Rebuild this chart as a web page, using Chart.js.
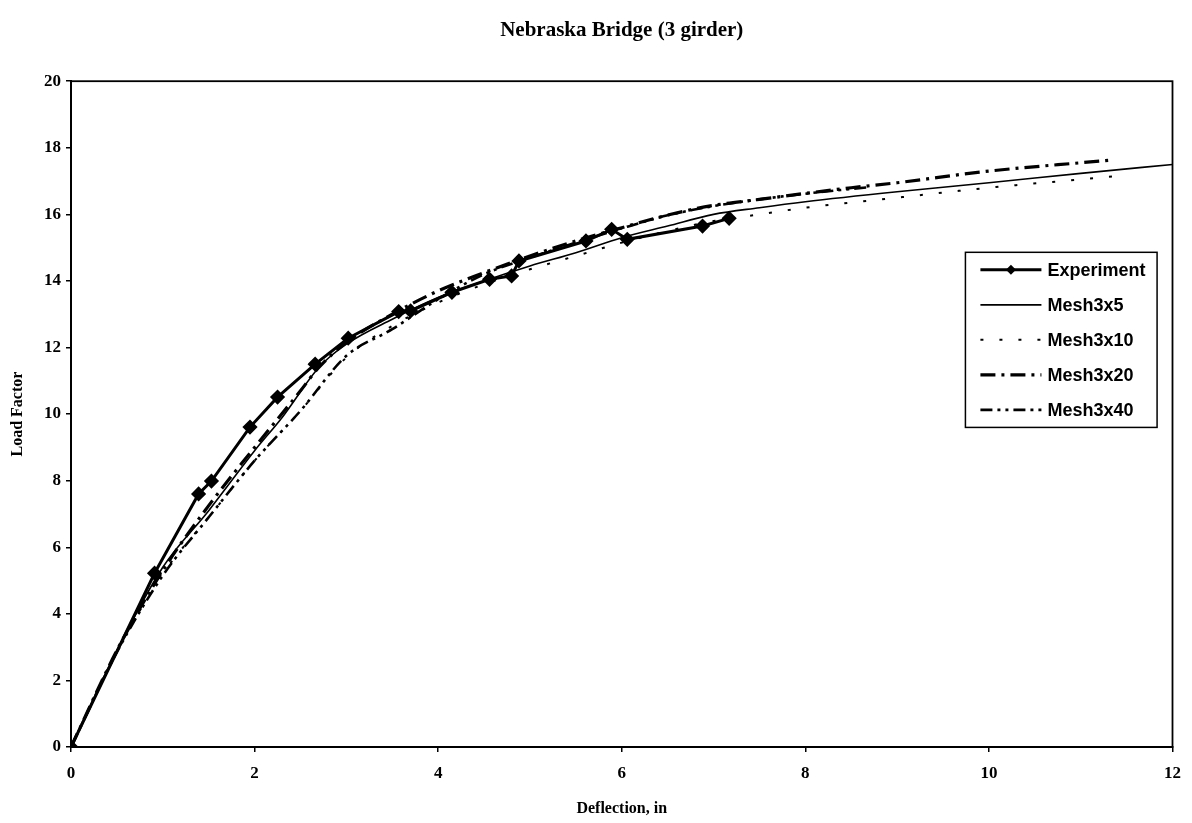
<!DOCTYPE html>
<html>
<head>
<meta charset="utf-8">
<script src="https://cdn.jsdelivr.net/npm/chart.js@4/dist/chart.umd.min.js"></script>
<style>
  html, body { margin: 0; padding: 0; background: #fff; }
  #wrap { width: 1192px; height: 823px; position: relative; }
</style>
</head>
<body>
<div id="wrap"><canvas id="c" width="1192" height="823"></canvas></div>
<script>
// ---- Data ----
const chartTitle = "Nebraska Bridge (3 girder)";
const xAxisTitle = "Deflection, in";
const yAxisTitle = "Load Factor";
const seriesNames = ["Experiment", "Mesh3x5", "Mesh3x10", "Mesh3x20", "Mesh3x40"];

const expX = [0, 0.91, 1.39, 1.53, 1.95, 2.25, 2.66, 3.02, 3.57, 3.7, 4.15, 4.56, 4.8, 4.88, 5.61, 5.89, 6.06, 6.88, 7.17];
const expY = [0, 5.22, 7.6, 7.99, 9.61, 10.51, 11.5, 12.28, 13.08, 13.1, 13.66, 14.05, 14.15, 14.6, 15.2, 15.55, 15.25, 15.65, 15.88];

const m5X = [0, 0.5, 1.0, 1.5, 2.0, 2.3, 2.7, 3.0, 3.5, 4.0, 4.5, 5.0, 5.5, 6.0, 6.5, 7.0, 7.5, 8.0, 9.0, 10.0, 11.0, 12.0];
const m5Y = [0, 2.9, 5.4, 7.1, 8.9, 9.9, 11.4, 12.1, 12.85, 13.5, 14.0, 14.45, 14.85, 15.3, 15.65, 16.0, 16.2, 16.38, 16.68, 16.95, 17.23, 17.5];

const m10X = [0, 0.5, 1.0, 1.5, 2.0, 2.5, 3.0, 3.5, 4.0, 4.5, 5.0, 5.5, 6.0, 6.5, 7.0, 7.5, 8.0, 9.0, 10.0, 11.0, 11.4];
const m10Y = [0, 2.85, 5.2, 6.9, 8.6, 10.1, 11.7, 12.65, 13.35, 13.9, 14.35, 14.75, 15.15, 15.5, 15.8, 16.0, 16.2, 16.5, 16.8, 17.05, 17.15];

const m20X = [0, 0.5, 1.0, 1.5, 2.0, 2.5, 2.7, 3.0, 3.5, 4.0, 4.5, 5.0, 5.5, 6.0, 6.5, 7.0, 7.5, 8.0, 8.5, 9.0, 10.0, 11.0, 11.34];
const m20Y = [0, 2.9, 5.3, 7.25, 9.0, 10.7, 11.4, 12.15, 13.0, 13.7, 14.25, 14.75, 15.2, 15.6, 15.98, 16.27, 16.45, 16.63, 16.8, 16.95, 17.3, 17.55, 17.63];

const m40X = [0, 0.5, 1.0, 1.5, 2.0, 2.5, 3.0, 3.5, 4.0, 4.5, 5.0, 5.5, 6.0, 6.5, 7.0, 7.5, 8.0, 8.7];
const m40Y = [0, 2.85, 5.15, 6.9, 8.6, 10.1, 11.75, 12.55, 13.45, 14.2, 14.7, 15.15, 15.58, 15.97, 16.25, 16.45, 16.62, 16.82];

const xTicks = [0, 2, 4, 6, 8, 10, 12];
const yTicks = [0, 2, 4, 6, 8, 10, 12, 14, 16, 18, 20];

function pts(xs, ys) { return xs.map((x, i) => ({ x: x, y: ys[i] })); }

// ---- Plugins ----
const framePlugin = {
  id: 'frame',
  beforeDatasetsDraw(chart) {
    const { ctx, chartArea: a } = chart;
    ctx.save();
    ctx.strokeStyle = '#000';
    ctx.lineWidth = 1.8;
    ctx.strokeRect(a.left, a.top, a.right - a.left, a.bottom - a.top);
    ctx.restore();
  }
};

const boxLegend = {
  id: 'boxLegend',
  afterDraw(chart) {
    const { ctx, chartArea: a } = chart;
    const w = a.right - a.left, h = a.bottom - a.top;
    const L = a.left + w * 0.812, T = a.top + h * 0.257;
    const R = a.left + w * 0.986, B = a.top + h * 0.52;
    ctx.save();
    ctx.fillStyle = '#fff';
    ctx.fillRect(L, T, R - L, B - T);
    ctx.strokeStyle = '#000';
    ctx.lineWidth = 1.5;
    ctx.strokeRect(L, T, R - L, B - T);
    const rowH = (B - T) / chart.data.datasets.length;
    chart.data.datasets.forEach((ds, i) => {
      const y = T + rowH * (i + 0.5);
      ctx.beginPath();
      ctx.setLineDash(ds.borderDash || []);
      ctx.lineWidth = ds.borderWidth;
      ctx.strokeStyle = '#000';
      ctx.moveTo(L + 15, y);
      ctx.lineTo(L + 76, y);
      ctx.stroke();
      ctx.setLineDash([]);
      if (ds.pointRadius > 0) {
        const r = 5;
        ctx.beginPath();
        ctx.moveTo(L + 45.5, y - r);
        ctx.lineTo(L + 45.5 + r, y);
        ctx.lineTo(L + 45.5, y + r);
        ctx.lineTo(L + 45.5 - r, y);
        ctx.closePath();
        ctx.fillStyle = '#000';
        ctx.fill();
      }
      ctx.fillStyle = '#000';
      ctx.font = 'bold 18px "Liberation Sans", Arial, sans-serif';
      ctx.textBaseline = 'middle';
      ctx.textAlign = 'left';
      ctx.fillText(ds.label, L + 82, y + 1);
    });
    ctx.restore();
  }
};

const tickFont = { family: '"Liberation Serif", "Times New Roman", serif', size: 17, weight: 'bold' };
const titleFont = { family: '"Liberation Serif", "Times New Roman", serif', size: 16, weight: 'bold' };

new Chart(document.getElementById('c'), {
  type: 'line',
  data: {
    datasets: [
      { label: seriesNames[0], data: pts(expX, expY), borderColor: '#000', backgroundColor: '#000',
        borderWidth: 3, pointStyle: 'rectRot', pointRadius: 5.5, pointBackgroundColor: '#000',
        pointBorderColor: '#000', tension: 0, borderDash: [] },
      { label: seriesNames[1], data: pts(m5X, m5Y), borderColor: '#000', borderWidth: 1.6,
        pointRadius: 0, cubicInterpolationMode: 'monotone', borderDash: [] },
      { label: seriesNames[2], data: pts(m10X, m10Y), borderColor: '#000', borderWidth: 2,
        pointRadius: 0, cubicInterpolationMode: 'monotone', borderDash: [3, 16] },
      { label: seriesNames[3], data: pts(m20X, m20Y), borderColor: '#000', borderWidth: 3.2,
        pointRadius: 0, cubicInterpolationMode: 'monotone', borderDash: [15, 6, 3, 6] },
      { label: seriesNames[4], data: pts(m40X, m40Y), borderColor: '#000', borderWidth: 2.6,
        pointRadius: 0, cubicInterpolationMode: 'monotone', borderDash: [12, 5, 3, 5, 3, 5] }
    ]
  },
  options: {
    responsive: false,
    animation: false,
    events: [],
    layout: { padding: { top: 18, right: 18, bottom: 0, left: 0 } },
    plugins: {
      legend: { display: false },
      tooltip: { enabled: false },
      title: {
        display: true, text: chartTitle, color: '#000', fullSize: false,
        font: { family: '"Liberation Serif", "Times New Roman", serif', size: 21, weight: 'bold' },
        padding: { top: 0, bottom: 38 }
      }
    },
    scales: {
      x: {
        type: 'linear', min: 0, max: 12,
        afterFit(s) { s.height = 76; },
        afterBuildTicks(s) { s.ticks = xTicks.map(v => ({ value: v })); },
        ticks: { color: '#000', font: tickFont, padding: 11, maxRotation: 0 },
        grid: { display: true, drawOnChartArea: false, drawTicks: true, tickLength: 5, color: '#000', lineWidth: 1.5 },
        border: { display: true, color: '#000', width: 2 },
        title: { display: true, text: xAxisTitle, color: '#000', font: titleFont, padding: { top: 0, bottom: 5 } }
      },
      y: {
        type: 'linear', min: 0, max: 20,
        afterFit(s) { s.width = 71; },
        afterBuildTicks(s) { s.ticks = yTicks.map(v => ({ value: v })); },
        ticks: { color: '#000', font: tickFont, padding: 5 },
        grid: { display: true, drawOnChartArea: false, drawTicks: true, tickLength: 5, color: '#000', lineWidth: 1.5 },
        border: { display: true, color: '#000', width: 2 },
        title: { display: true, text: yAxisTitle, color: '#000', font: titleFont, padding: { top: 8, bottom: 0 } }
      }
    }
  },
  plugins: [framePlugin, boxLegend]
});
</script>
</body>
</html>
